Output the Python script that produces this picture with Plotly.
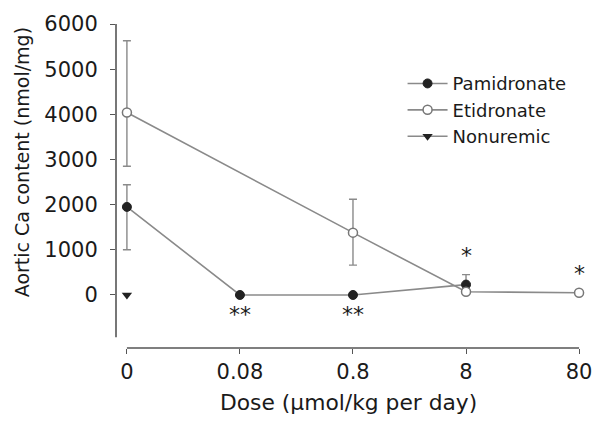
import plotly.graph_objects as go

# ---- data ----
dose_labels = ["0", "0.08", "0.8", "8", "80"]
pam_x = ["0", "0.08", "0.8", "8"]
pam_y = [1950, 0, 0, 230]
pam_err_plus = [490, 0, 0, 220]
pam_err_minus = [950, 0, 0, 0]

eti_x = ["0", "0.8", "8", "80"]
eti_y = [4040, 1380, 70, 50]
eti_err_plus = [1590, 740, 0, 0]
eti_err_minus = [1190, 720, 0, 0]

non_x = ["0"]
non_y = [0]

y_ticks = [0, 1000, 2000, 3000, 4000, 5000, 6000]

sig_labels = ["**", "**", "*", "*"]
sig_x = ["0.08", "0.8", "8", "80"]
sig_y = [-413, -413, 891, 506]

FONT = "DejaVu Sans"
TXT = "#1a1a1a"
LINE = "#8a8a8a"
DARK = "#222222"

xi = {lab: i for i, lab in enumerate(dose_labels)}

fig = go.Figure()
fig.add_trace(go.Scatter(
    x=[xi[v] for v in pam_x], y=pam_y, name="Pamidronate", mode="lines+markers",
    line=dict(color=LINE, width=1.6),
    marker=dict(symbol="circle", size=9, color=DARK, line=dict(color=DARK, width=1)),
    error_y=dict(type="data", symmetric=False, array=pam_err_plus, arrayminus=pam_err_minus,
                 color=LINE, thickness=1.4, width=4),
))
fig.add_trace(go.Scatter(
    x=[xi[v] for v in eti_x], y=eti_y, name="Etidronate", mode="lines+markers",
    line=dict(color=LINE, width=1.6),
    marker=dict(symbol="circle", size=9, color="white", line=dict(color="#777777", width=1.5)),
    error_y=dict(type="data", symmetric=False, array=eti_err_plus, arrayminus=eti_err_minus,
                 color=LINE, thickness=1.4, width=4),
))
fig.add_trace(go.Scatter(
    x=[xi[v] for v in non_x], y=non_y, name="Nonuremic", mode="lines+markers",
    line=dict(color=LINE, width=1.6),
    marker=dict(symbol="triangle-down", size=9, color=DARK),
))

for lab, sx, sy in zip(sig_labels, sig_x, sig_y):
    fig.add_annotation(x=xi[sx], y=sy, text=lab, showarrow=False,
                       font=dict(family=FONT, size=22, color=TXT),
                       xanchor="center", yanchor="middle", yshift=-1)

# axis titles
fig.add_annotation(xref="paper", yref="paper", x=(350 - 116) / 474, y=(348 - 404) / 330,
                   text="Dose (\u03bcmol/kg per day)", showarrow=False,
                   font=dict(family=FONT, size=21.8, color=TXT), xanchor="center", yanchor="middle")
fig.add_annotation(xref="paper", yref="paper", x=(22 - 116) / 474, y=(348 - 159) / 330,
                   text="Aortic Ca content (nmol/mg)", showarrow=False, textangle=-90,
                   font=dict(family=FONT, size=19, color=TXT), xanchor="center", yanchor="middle")

# detached axis lines
fig.add_shape(type="line", xref="paper", yref="y", x0=0, x1=0, y0=-935, y1=6000,
              line=dict(color="#555555", width=1.6))
fig.add_shape(type="line", xref="x", yref="paper", x0=0, x1=4, y0=0, y1=0,
              line=dict(color="#555555", width=1.6))

fig.update_layout(
    width=604, height=430,
    margin=dict(l=116, r=14, t=18, b=82),
    paper_bgcolor="white", plot_bgcolor="white",
    font=dict(family=FONT, size=20, color=TXT),
    showlegend=True,
    legend=dict(x=(405 - 116) / 474, y=(348 - 60) / 330, xanchor="left", yanchor="top",
                font=dict(family=FONT, size=18, color=TXT), bgcolor="rgba(0,0,0,0)",
                tracegroupgap=0, itemwidth=40),
    xaxis=dict(range=[-11 / 114, 4 + 7 / 114], tickmode="array",
               tickvals=list(range(len(dose_labels))), ticktext=dose_labels,
               showline=False, showgrid=False, zeroline=False,
               ticks="outside", ticklen=5, tickwidth=1.2, tickcolor="#555555",
               tickfont=dict(family=FONT, size=21, color=TXT)),
    yaxis=dict(range=[-1174, 6000], tickmode="array", tickvals=y_ticks,
               showline=False, showgrid=False, zeroline=False,
               ticks="outside", ticklen=5, tickwidth=1.2, tickcolor="#555555",
               ticklabelstandoff=8,
               tickfont=dict(family=FONT, size=21, color=TXT)),
)

fig.write_html("out.html", config={"displayModeBar": False},
               post_script="document.body.style.margin='0';")
